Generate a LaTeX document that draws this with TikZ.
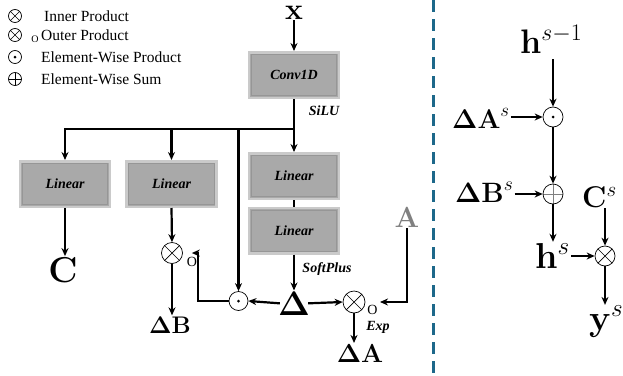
\RequirePackage{fix-cm}
\documentclass[tikz,border=0pt]{standalone}
\usepackage[no-math]{fontspec}
\newfontfamily\tnr{Liberation Serif}
\usetikzlibrary{arrows.meta}
\definecolor{boxfill}{RGB}{169,169,169}
\definecolor{boxout}{RGB}{202,202,202}
\definecolor{boxin}{RGB}{150,150,150}
\definecolor{dashc}{RGB}{29,104,138}
\definecolor{agray}{RGB}{128,128,128}
\newcommand{\myfs}[1]{\fontsize{#1}{#1}\selectfont}
\begin{document}
\begin{tikzpicture}[x=1pt,y=-1pt,
  conn/.style={line width=2.2pt,-{Stealth[length=8pt,width=7pt]}},
  plainline/.style={line width=2.2pt},
  box/.style={rectangle,minimum width=90pt,minimum height=45.5pt,inner sep=0pt,
    fill=boxfill,draw=boxout,line width=2.5pt,
    font=\tnr\bfseries\itshape\myfs{14},
    path picture={\draw[boxin,line width=0.8pt]
      ([shift={(2.2pt,-2.2pt)}]path picture bounding box.north west) rectangle
      ([shift={(-2.2pt,2.2pt)}]path picture bounding box.south east);}},
  sym/.style={circle,draw,line width=0.7pt,minimum size=20pt,inner sep=0pt},
  otimes/.style={sym,path picture={\draw[line width=0.7pt]
      (path picture bounding box.north west) -- (path picture bounding box.south east)
      (path picture bounding box.north east) -- (path picture bounding box.south west);}},
  oplus/.style={sym,path picture={\draw[line width=0.7pt]
      (path picture bounding box.north) -- (path picture bounding box.south)
      (path picture bounding box.west) -- (path picture bounding box.east);}},
  oplusg/.style={sym,path picture={\draw[line width=0.7pt,gray]
      (path picture bounding box.north) -- (path picture bounding box.south)
      (path picture bounding box.west) -- (path picture bounding box.east);}},
  odot/.style={sym,path picture={\fill (path picture bounding box.center) circle (1.5pt);}},
  small/.style={minimum size=13pt},
  sl/.style={font=\tnr\bfseries\itshape\myfs{14},inner sep=0pt},
  mlab/.style={inner sep=1pt},
  legtext/.style={anchor=west,inner sep=0pt,font=\tnr\myfs{15.5}},
  olab/.style={inner sep=0pt,font=\tnr\myfs{14}},
  dashline/.style={dashc,line width=3pt,dash pattern=on 12pt off 7pt}
]
\useasboundingbox (0,0) rectangle (623,375);

% legend
\node[otimes,small] (lg1) at (15,16) {};
\node[legtext] (lt1) at (44,16) {Inner Product};
\node[otimes,small] (lg2) at (15,35) {};
\node[olab,font=\tnr\myfs{10}] (lo2) at (35,39) {O};
\node[legtext] (lt2) at (41,35) {Outer Product};
\node[odot,small] (lg3) at (15,57) {};
\node[legtext] (lt3) at (41,57) {Element-Wise Product};
\node[oplus,small] (lg4) at (15,79) {};
\node[legtext] (lt4) at (41,79) {Element-Wise Sum};

% boxes
\node[box] (conv) at (294,75) {Conv1D};
\node[box] (l1) at (65,184) {Linear};
\node[box] (l2) at (171.5,184) {Linear};
\node[box] (l3) at (294,176) {Linear};
\node[box] (l4) at (294,230.5) {Linear};

% labels
\node[mlab,anchor=base,font=\myfs{30}] (xin) at (294,19) {$\mathbf{x}$};
\node[sl] (silu) at (324,111) {SiLU};
\node[sl] (softplus) at (327,269) {SoftPlus};
\node[sl] (exp) at (378,327) {Exp};
\node[mlab,anchor=base,font=\myfs{36}] (cc) at (63,282) {$\mathbf{C}$};
\node[mlab,anchor=base,font=\myfs{24}] (db) at (170,333) {$\mathbf{\Delta B}$};
\node[mlab,anchor=base,font=\myfs{34}] (dl) at (294,315) {$\mathbf{\Delta}$};
\node[mlab,anchor=base,font=\myfs{26}] (da) at (360,362) {$\mathbf{\Delta A}$};
\node[mlab,anchor=base,font=\myfs{29},text=agray] (ag) at (407,227) {$\mathbf{A}$};

% operators
\node[otimes,minimum size=21pt] (ob) at (172,253) {};
\node[olab] (obo) at (192,262) {O};
\node[odot,minimum size=19pt] (odm) at (238.5,301) {};
\node[otimes,minimum size=22pt] (oa) at (354,302) {};
\node[olab] (oao) at (372.5,310) {O};

\coordinate (br) at (294,129);
\coordinate (obin) at ([xshift=9pt]ob.east);
\coordinate (ain) at (380,302);

% connectors
\draw[conn] (xin.south) -- (conv.north);
\draw[plainline] (conv.south) -- (br);
\draw[conn] (br) -- (l3.north);
\draw[conn] (br) -| (l1.north);
\draw[conn] (l2.north |- br) -- (l2.north);
\draw[conn] (odm.north |- br) -- (odm.north);
\draw[plainline] (l3.south) -- (l4.north);
\draw[conn] (l4.south) -- (dl.north);
\draw[conn] (l1.south) -- (l1.south |- cc.north);
\draw[conn] (l2.south) -- (ob.north);
\draw[conn] (ob.south) -- (ob.south |- db.north);
\draw[conn] ([xshift=3pt]dl.west) -- (odm.east);
\draw[conn] (odm.west) -- ++(-30.5,0) |- (obin);
\draw[conn] ([xshift=-3pt]dl.east) -- (oa.west);
\draw[conn] (ag.south) |- (ain);
\draw[conn] (oa.south) -- (oa.south |- da.north);

% divider
\coordinate (dtop) at (433,0);
\coordinate (dbot) at (433,375);
\draw[dashline] (dtop) -- (dbot);

% right side
\node[odot] (odr) at (553,117) {};
\node[oplusg] (opr) at (553,194) {};
\node[otimes] (otr) at (605,256) {};
\node[mlab,anchor=base west,font=\myfs{34}] (hs1) at (519,53) {$\mathbf{h}^{s-1}$};
\node[mlab,anchor=base west,font=\myfs{27}] (dar) at (451,128) {$\mathbf{\Delta A}^s$};
\node[mlab,anchor=base west,font=\myfs{28}] (dbr) at (454,202) {$\mathbf{\Delta B}^s$};
\node[mlab,anchor=base west,font=\myfs{36}] (hs) at (534,268) {$\mathbf{h}^s$};
\node[mlab,anchor=base west,font=\myfs{30}] (csr) at (581,207) {$\mathbf{C}^s$};
\node[mlab,anchor=base west,font=\myfs{36}] (ysr) at (588,330) {$\mathbf{y}^s$};

\draw[conn,shorten <=5pt] (hs1.south -| odr) -- (odr.north);
\draw[conn] (dar.east |- odr) -- (odr.west);
\draw[conn] (odr.south) -- (opr.north);
\draw[conn] (dbr.east |- opr) -- (opr.west);
\draw[conn] (opr.south) -- (opr.south |- hs.north);
\draw[conn] (hs.east |- otr) -- (otr.west);
\draw[conn] (csr.south -| otr) -- (otr.north);
\draw[conn] (otr.south) -- (otr.south |- ysr.north);
\end{tikzpicture}
\end{document}
